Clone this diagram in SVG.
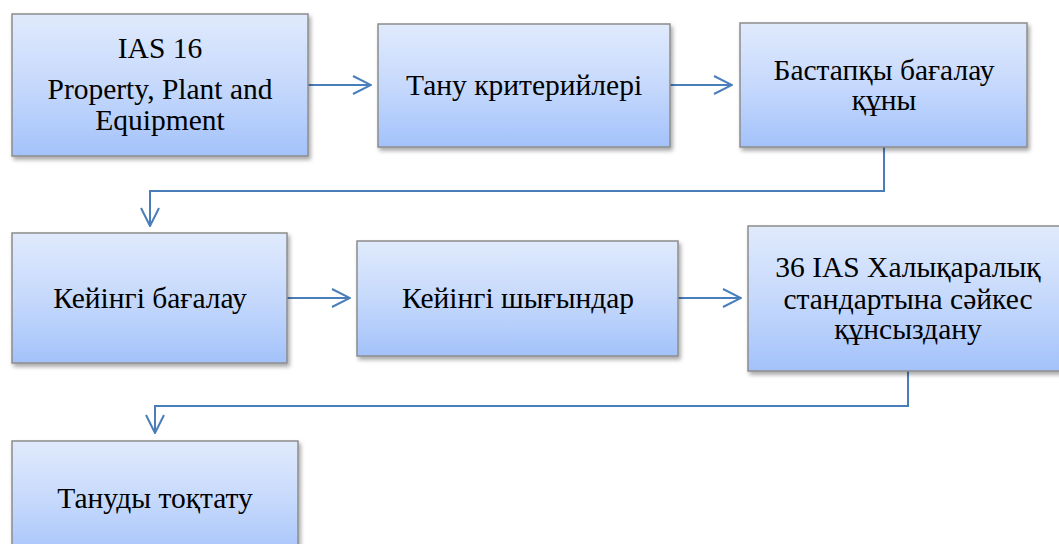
<svg xmlns="http://www.w3.org/2000/svg" width="1059" height="544" viewBox="0 0 1059 544">
<defs>
<linearGradient id="g" x1="0" y1="0" x2="0" y2="1">
<stop offset="0" stop-color="#e0eafc"/>
<stop offset="0.5" stop-color="#c6d9fc"/>
<stop offset="1" stop-color="#a3c2fa"/>
</linearGradient>
<filter id="sh" x="-10%" y="-10%" width="125%" height="130%">
<feDropShadow dx="2" dy="3" stdDeviation="2" flood-color="#000" flood-opacity="0.35"/>
</filter>
<marker id="ah" viewBox="0 0 20 20" refX="19" refY="10" markerWidth="20" markerHeight="20" markerUnits="userSpaceOnUse" orient="auto">
<path d="M1,1 L19,10 L1,19" fill="none" stroke="#4a7ebb" stroke-width="2"/>
</marker>
</defs>
<style>
.box{fill:url(#g);stroke:#8c8c8c;stroke-width:1.5;filter:url(#sh);}
.t{font-family:"Liberation Serif","Times New Roman",serif;font-size:29.5px;fill:#000;text-anchor:middle;}
.c{fill:none;stroke:#4a7ebb;stroke-width:2;marker-end:url(#ah);}
</style>
<g id="connectors">
<path class="c" d="M308,85 H371"/>
<path class="c" d="M670,85 H732"/>
<path class="c" d="M884,147 V191 H150 V226"/>
<path class="c" d="M287,298 H350"/>
<path class="c" d="M678,298 H741"/>
<path class="c" d="M908,371 V406 H155 V433"/>
</g>
<g id="n1">
<rect class="box" x="12" y="14" width="296" height="142"/>
<text class="t" x="160" y="58">IAS 16</text>
<text class="t" x="160" y="99">Property, Plant and</text>
<text class="t" x="160" y="130">Equipment</text>
</g>
<g id="n2">
<rect class="box" x="378" y="24" width="292" height="123"/>
<text class="t" x="524" y="95">Тану критерийлері</text>
</g>
<g id="n3">
<rect class="box" x="740" y="23" width="287" height="124"/>
<text class="t" x="884" y="80">Бастапқы бағалау</text>
<text class="t" x="884" y="110">құны</text>
</g>
<g id="n4">
<rect class="box" x="12" y="233" width="275" height="130"/>
<text class="t" x="150" y="308">Кейінгі бағалау</text>
</g>
<g id="n5">
<rect class="box" x="357" y="241" width="321" height="115"/>
<text class="t" x="518" y="308">Кейінгі шығындар</text>
</g>
<g id="n6">
<rect class="box" x="748" y="226" width="320" height="145"/>
<text class="t" x="908" y="277">36 IAS Халықаралық</text>
<text class="t" x="908" y="309">стандартына сәйкес</text>
<text class="t" x="908" y="339">құнсыздану</text>
</g>
<g id="n7">
<rect class="box" x="12" y="441" width="286" height="120"/>
<text class="t" x="155" y="508">Тануды тоқтату</text>
</g>
</svg>
